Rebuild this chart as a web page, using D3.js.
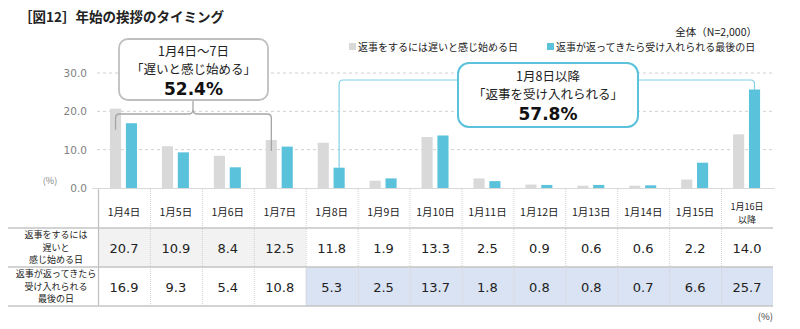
<!DOCTYPE html>
<html><head><meta charset="utf-8">
<script src="https://cdn.jsdelivr.net/npm/d3@7"></script>
<style>
body{margin:0;background:#fff;}
svg{font-family:"Noto Sans CJK JP","Noto Sans",sans-serif;}
</style></head>
<body><svg id="c" width="800" height="329"></svg>
<script>
const categories = ["1月4日","1月5日","1月6日","1月7日","1月8日","1月9日","1月10日","1月11日","1月12日","1月13日","1月14日","1月15日","1月16日\n以降"];
const seriesNames = ["返事をするには遅いと感じ始める日","返事が返ってきたら受け入れられる最後の日"];
const rowLabels = [["返事をするには","遅いと","感じ始める日"],["返事が返ってきたら","受け入れられる","最後の日"]];
const lateValues = [20.7,10.9,8.4,12.5,11.8,1.9,13.3,2.5,0.9,0.6,0.6,2.2,14.0];
const lastValues = [16.9,9.3,5.4,10.8,5.3,2.5,13.7,1.8,0.8,0.8,0.7,6.6,25.7];
const yTicks = [0,10,20,30];
const colors = ["#d9d9d9","#5bc2dc"];
const numFont = "'DejaVu Sans','Noto Sans',sans-serif";

const svg = d3.select("#c");
const x = d3.scaleBand().domain(categories).range([98,773]).padding(0);
const x1 = d3.scaleBand().domain([0,1]).range([12,39]).paddingInner(0.3);
const y = d3.scaleLinear().domain([0,30]).range([188,73]);

// title
svg.append("text").attr("x",19).attr("y",22).attr("font-size",13.5).attr("font-weight","bold").attr("fill","#222")
  .text("［図12］年始の挨拶のタイミング");

// gridlines
svg.append("g").selectAll("line").data(yTicks.filter(d=>d>0)).join("line")
  .attr("x1",97).attr("x2",775).attr("y1",d=>y(d)).attr("y2",d=>y(d))
  .attr("stroke","#d0d0d0").attr("stroke-dasharray","3,3");
const yAxis = svg.append("g").attr("transform","translate(97,0)")
  .call(d3.axisLeft(y).tickValues(yTicks).tickFormat(d3.format(".1f")).tickSize(0).tickPadding(10));
yAxis.select(".domain").remove();
yAxis.selectAll("text").attr("font-size",10.5).attr("fill","#7f7f7f").attr("font-family",numFont);
svg.append("text").attr("x",50).attr("y",184).attr("font-size",9).attr("fill","#7f7f7f").attr("text-anchor","middle").text("(%)");

// table backgrounds
svg.append("g").selectAll("rect").data(categories.slice(0,4)).join("rect")
  .attr("x",d=>x(d)).attr("y",228).attr("width",x.bandwidth()).attr("height",39).attr("fill","#f2f2f2");
svg.append("g").selectAll("rect").data(categories.slice(4)).join("rect")
  .attr("x",d=>x(d)).attr("y",267).attr("width",x.bandwidth()).attr("height",39).attr("fill","#dae3f3");

// bars
const series = [lateValues,lastValues];
series.forEach((vals,si)=>{
  svg.append("g").selectAll("rect").data(vals).join("rect")
    .attr("x",(d,i)=>x(categories[i])+x1(si)).attr("width",x1.bandwidth())
    .attr("y",d=>y(d)).attr("height",d=>y(0)-y(d)).attr("fill",colors[si]);
});

// axis baseline
svg.append("line").attr("x1",92).attr("x2",775).attr("y1",188.5).attr("y2",188.5).attr("stroke","#d9d9d9").attr("stroke-width",1.2);

// table lines
const tableCols = categories.map(c=>x(c)).concat([773]);
svg.append("g").selectAll("line").data(tableCols.slice(1,-1)).join("line")
  .attr("x1",d=>d+0.5).attr("x2",d=>d+0.5).attr("y1",189).attr("y2",306)
  .attr("stroke","#cfcfcf").attr("stroke-dasharray","1,1");
svg.append("line").attr("x1",98.5).attr("x2",98.5).attr("y1",189).attr("y2",306).attr("stroke","#bfbfbf").attr("stroke-width",1.2);
[228,267,306].forEach(yy=>{
  svg.append("line").attr("x1",8).attr("x2",773).attr("y1",yy).attr("y2",yy).attr("stroke","#c4c4c4").attr("stroke-width",1.5);
});

// header labels
categories.forEach(c=>{
  const lines = c.split("\n");
  lines.forEach((l,i)=>{
    svg.append("text").attr("text-anchor","middle").attr("font-size",lines.length===1?10.5:9).attr("fill","#222")
      .attr("x",x(c)+x.bandwidth()/2).attr("y",lines.length===1?216:210+i*13).text(l);
  });
});
// values
series.forEach((vals,si)=>{
  svg.append("g").selectAll("text").data(vals).join("text")
    .attr("x",(d,i)=>x(categories[i])+x.bandwidth()/2).attr("y",253+si*39)
    .attr("text-anchor","middle").attr("font-size",13).attr("fill","#222")
    .attr("font-family",numFont)
    .text(d=>d.toFixed(1));
});
// row labels
rowLabels.forEach((lines,ri)=>{
  lines.forEach((l,i)=>svg.append("text").attr("text-anchor","middle").attr("font-size",9)
    .attr("fill","#222").attr("x",56).attr("y",238+ri*39+i*12.5).text(l));
});
svg.append("text").attr("x",773).attr("y",320).attr("text-anchor","end").attr("font-size",9.5).attr("fill","#444").text("(%)");

// legend
svg.append("text").attr("x",757).attr("y",36).attr("text-anchor","end").attr("font-size",10.5).attr("fill","#222").text("全体（N=2,000）");
const legX = [349,547];
seriesNames.forEach((n,i)=>{
  svg.append("rect").attr("x",legX[i]).attr("y",43).attr("width",7).attr("height",7).attr("fill",colors[i]);
  svg.append("text").attr("x",legX[i]+9).attr("y",51).attr("font-size",10).attr("fill","#222").text(n);
});

// callout 1 (gray bracket)
const b1L = x(categories[0])+x1(0)+x1.bandwidth()/2, b1R = x(categories[3])+x1(0)+x1.bandwidth()/2;
svg.append("path").attr("fill","none").attr("stroke","#a6a6a6").attr("stroke-width",1.3)
  .attr("d",`M${b1L},${y(lateValues[0])+21} V118 Q${b1L},114 ${b1L+4},114 H189 Q193,114 193,109 Q193,114 197,114 H${b1R-4} Q${b1R},114 ${b1R},118 V${y(lateValues[3])+11}`);
svg.append("line").attr("x1",193).attr("x2",193).attr("y1",100).attr("y2",109).attr("stroke","#a6a6a6").attr("stroke-width",1.3);
svg.append("rect").attr("x",119).attr("y",39).attr("width",149).attr("height",61).attr("rx",9)
  .attr("fill","#fff").attr("stroke","#bfbfbf").attr("stroke-width",1.8);
svg.append("text").attr("x",193.5).attr("y",56).attr("text-anchor","middle").attr("font-size",12.5).attr("fill","#222").text("1月4日～7日");
svg.append("text").attr("x",193.5).attr("y",74).attr("text-anchor","middle").attr("font-size",12.5).attr("fill","#222").text("「遅いと感じ始める」");
svg.append("text").attr("x",193.5).attr("y",95).attr("text-anchor","middle").attr("font-size",17).attr("font-weight","bold").attr("fill","#111").attr("font-family",numFont).text("52.4%");

// callout 2 (blue connector)
const c2L = x(categories[4])+x1(1)+x1.bandwidth()/2, c2R = x(categories[12])+x1(1)+x1.bandwidth()/2;
svg.append("path").attr("fill","none").attr("stroke","#7fd0e6").attr("stroke-width",1.2)
  .attr("d",`M${c2L},${y(lastValues[4])} V84 Q${c2L},80 ${c2L+4},80 H${c2R-4} Q${c2R},80 ${c2R},84 V${y(lastValues[12])}`);
svg.append("rect").attr("x",458).attr("y",63).attr("width",180).attr("height",64).attr("rx",11)
  .attr("fill","#fff").attr("stroke","#5bc2dc").attr("stroke-width",2);
svg.append("text").attr("x",548).attr("y",81).attr("text-anchor","middle").attr("font-size",12.5).attr("fill","#222").text("1月8日以降");
svg.append("text").attr("x",548).attr("y",99).attr("text-anchor","middle").attr("font-size",12.5).attr("fill","#222").text("「返事を受け入れられる」");
svg.append("text").attr("x",548).attr("y",120).attr("text-anchor","middle").attr("font-size",17).attr("font-weight","bold").attr("fill","#111").attr("font-family",numFont).text("57.8%");
</script></body></html>
